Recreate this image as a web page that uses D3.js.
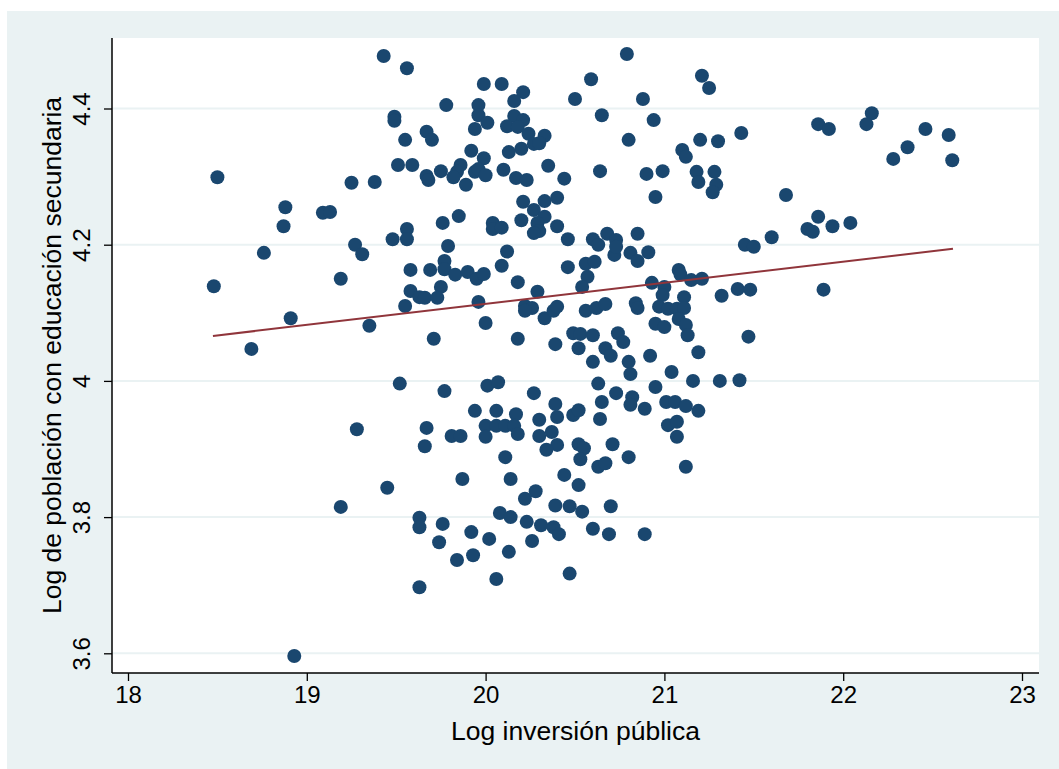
<!DOCTYPE html>
<html>
<head>
<meta charset="utf-8">
<script src="https://cdn.jsdelivr.net/npm/d3@7"></script>
<style>
  html, body { margin: 0; padding: 0; background: #ffffff; }
  svg { display: block; }
  text { font-family: "Liberation Sans", Arial, sans-serif; fill: #000; }
</style>
</head>
<body>
<svg id="chart" width="1059" height="769"></svg>
<script>
// Log public investment (x) and log population with secondary education (y)
const inversion = [
  18.48, 18.50, 18.69, 18.76, 18.87, 18.88, 18.91, 18.93, 19.09, 19.13,
  19.19, 19.19, 19.25, 19.27, 19.31, 19.28, 19.35, 19.38, 19.43, 19.45,
  19.48, 19.49, 19.49, 19.51, 19.52,
  19.56, 19.99, 20.09, 20.21, 19.78, 20.16, 19.96, 19.96, 20.01, 19.94,
  20.16, 20.21, 20.12, 20.18, 20.24, 20.33, 20.27, 20.30, 20.20, 19.67,
  19.70, 19.55, 19.92, 19.99, 20.13, 19.59, 19.75, 19.67, 19.68, 19.86,
  19.84, 19.82, 19.89, 19.94, 19.96, 20.00, 20.10, 20.17, 20.23, 20.35,
  20.44, 20.21, 20.27, 20.33, 20.40, 20.20, 20.33, 20.29, 20.30, 20.27,
  20.40, 19.85, 19.76, 19.56, 19.56, 20.04, 20.04, 20.09, 19.79, 20.12,
  19.77, 19.58, 19.69, 19.77, 19.83, 19.90, 19.95, 19.99, 20.09, 20.18,
  20.29, 19.75, 19.58, 19.63, 19.66, 19.73, 19.55, 19.96, 20.22, 20.26,
  20.22, 20.33, 20.38, 20.40, 20.00, 19.71, 20.18, 20.39,
  19.77, 20.01, 20.07, 20.27, 20.39, 20.40, 19.94, 20.06, 20.17, 20.00,
  20.06, 20.11, 20.16, 19.67, 20.30, 20.18, 20.00, 19.81, 19.86, 20.30,
  20.37, 20.40, 20.34, 19.66, 20.11, 19.87, 20.14, 20.44, 20.28, 20.22,
  20.39, 19.63, 19.63, 19.76, 20.08, 20.14, 20.23, 20.31, 20.38, 20.41,
  19.92, 20.02, 19.74, 20.26, 19.93, 19.84, 20.13, 20.06, 19.63,
  20.79, 20.59, 21.21, 21.25, 20.50, 20.88, 20.65, 20.94, 20.80, 21.20,
  21.30, 21.10, 21.12, 20.64, 20.90, 20.99, 21.18, 21.19, 21.28, 21.29,
  21.27, 20.95, 20.85, 20.46, 20.60, 20.63, 20.68, 20.73, 20.72, 20.73,
  20.81, 20.85, 20.91, 20.46, 20.56, 20.61, 20.57, 20.54, 21.08, 21.09,
  21.15, 21.21, 20.93, 21.00, 20.99, 21.11, 21.32, 20.56, 20.62, 20.67,
  20.84, 20.85, 20.97, 21.02, 21.07, 21.11, 21.08, 21.12, 20.95, 21.00,
  21.13, 20.49, 20.53, 20.60, 20.74, 20.77, 20.52, 20.67, 20.70, 20.60,
  20.80, 20.81, 20.92, 21.04, 21.19,
  21.16, 21.31, 20.63, 20.73, 20.65, 20.95, 20.82, 20.81, 20.89, 21.01,
  21.06, 21.12, 21.19, 20.49, 20.52, 20.64, 21.02, 21.07, 21.07, 20.52,
  20.55, 20.53, 20.71, 20.80, 20.63, 20.67, 21.12, 20.52, 20.47, 20.54,
  20.70, 20.60, 20.69, 20.89, 20.47,
  22.16, 22.13, 21.86, 21.92, 21.43, 22.46, 22.59, 22.36, 22.28, 22.61,
  21.68, 21.86, 21.80, 21.83, 21.94, 22.04, 21.60, 21.45, 21.50, 21.41,
  21.48, 21.89, 21.47, 21.42
];
const poblacion = [
  4.139, 4.299, 4.047, 4.188, 4.227, 4.255, 4.092, 3.596, 4.247, 4.248,
  4.150, 3.815, 4.291, 4.200, 4.186, 3.929, 4.081, 4.292, 4.477, 3.843,
  4.208, 4.388, 4.382, 4.317, 3.996,
  4.459, 4.436, 4.436, 4.424, 4.405, 4.411, 4.405, 4.390, 4.379, 4.370,
  4.389, 4.383, 4.374, 4.373, 4.363, 4.360, 4.348, 4.349, 4.341, 4.366,
  4.354, 4.354, 4.338, 4.327, 4.336, 4.317, 4.308, 4.301, 4.295, 4.317,
  4.307, 4.299, 4.288, 4.307, 4.311, 4.302, 4.310, 4.298, 4.295, 4.316,
  4.297, 4.263, 4.251, 4.264, 4.269, 4.236, 4.241, 4.232, 4.220, 4.217,
  4.227, 4.242, 4.232, 4.223, 4.208, 4.232, 4.223, 4.225, 4.198, 4.190,
  4.176, 4.163, 4.163, 4.164, 4.156, 4.160, 4.150, 4.157, 4.169, 4.145,
  4.131, 4.138, 4.132, 4.123, 4.122, 4.122, 4.110, 4.116, 4.110, 4.107,
  4.103, 4.092, 4.103, 4.109, 4.085, 4.062, 4.062, 4.054,
  3.985, 3.993, 3.998, 3.982, 3.966, 3.947, 3.956, 3.956, 3.951, 3.934,
  3.934, 3.934, 3.934, 3.931, 3.943, 3.922, 3.918, 3.919, 3.919, 3.919,
  3.925, 3.906, 3.899, 3.904, 3.888, 3.856, 3.856, 3.862, 3.838, 3.827,
  3.817, 3.799, 3.785, 3.790, 3.806, 3.800, 3.793, 3.788, 3.785, 3.775,
  3.778, 3.768, 3.763, 3.765, 3.744, 3.737, 3.749, 3.709, 3.697,
  4.480, 4.443, 4.448, 4.430, 4.414, 4.414, 4.390, 4.383, 4.354, 4.354,
  4.352, 4.339, 4.329, 4.308, 4.304, 4.308, 4.307, 4.292, 4.307, 4.288,
  4.277, 4.270, 4.216, 4.208, 4.208, 4.200, 4.216, 4.207, 4.185, 4.197,
  4.188, 4.176, 4.189, 4.167, 4.172, 4.175, 4.153, 4.138, 4.163, 4.156,
  4.148, 4.150, 4.144, 4.138, 4.126, 4.123, 4.125, 4.103, 4.107, 4.113,
  4.114, 4.107, 4.109, 4.106, 4.106, 4.107, 4.091, 4.082, 4.084, 4.079,
  4.067, 4.070, 4.069, 4.067, 4.070, 4.057, 4.048, 4.048, 4.037, 4.028,
  4.028, 4.010, 4.037, 4.013, 4.042,
  4.000, 4.000, 3.996, 3.982, 3.969, 3.991, 3.976, 3.965, 3.959, 3.969,
  3.969, 3.963, 3.956, 3.950, 3.957, 3.944, 3.935, 3.940, 3.918, 3.907,
  3.901, 3.885, 3.907, 3.888, 3.874, 3.879, 3.874, 3.847, 3.816, 3.808,
  3.816, 3.783, 3.775, 3.775, 3.717,
  4.393, 4.377, 4.377, 4.370, 4.364, 4.370, 4.361, 4.343, 4.326, 4.324,
  4.273, 4.241, 4.223, 4.219, 4.227, 4.232, 4.211, 4.200, 4.197, 4.135,
  4.134, 4.134, 4.065, 4.001
];

// Linear fit, evaluated at the ends of the x range
const fitX = [18.475, 22.614];
const fitY = [4.066, 4.194];

const xTicks = [18, 19, 20, 21, 22, 23];
const yTicks = [3.6, 3.8, 4.0, 4.2, 4.4];
const yTickLabels = ["3.6", "3.8", "4", "4.2", "4.4"];

const xTitle = "Log inversión pública";
const yTitle = "Log de población con educación secundaria";

const W = 1059, H = 769;
const region = { left: 112, right: 1039, top: 38, bottom: 673 };

const svg = d3.select("#chart");

// outer graph region
svg.append("rect")
  .attr("x", 7).attr("y", 11)
  .attr("width", W - 7).attr("height", H - 11)
  .attr("fill", "#eaf2f3");

// plot region
svg.append("rect")
  .attr("x", region.left).attr("y", region.top)
  .attr("width", region.right - region.left)
  .attr("height", region.bottom - region.top)
  .attr("fill", "#ffffff");

const x = d3.scaleLinear().domain([18, 23]).range([128, 1022]);
const y = d3.scaleLinear().domain([3.6, 4.4]).range([653.3, 108.5]);

// horizontal grid lines
svg.append("g")
  .selectAll("line")
  .data(yTicks)
  .join("line")
  .attr("x1", region.left).attr("x2", region.right)
  .attr("y1", d => y(d)).attr("y2", d => y(d))
  .attr("stroke", "#eaf2f3")
  .attr("stroke-width", 2);

// scatter points
const pts = inversion.map((v, i) => [v, poblacion[i]]);
svg.append("g")
  .selectAll("circle")
  .data(pts)
  .join("circle")
  .attr("cx", d => x(d[0]))
  .attr("cy", d => y(d[1]))
  .attr("r", 7)
  .attr("fill", "#1a476f");

// fitted line
const line = d3.line().x(d => x(d[0])).y(d => y(d[1]));
svg.append("path")
  .datum(fitX.map((v, i) => [v, fitY[i]]))
  .attr("d", line)
  .attr("fill", "none")
  .attr("stroke", "#90353b")
  .attr("stroke-width", 2);

// axes
const xAxis = d3.axisBottom(x).tickValues(xTicks).tickSize(8).tickPadding(5)
  .tickFormat(d3.format("d"));
const gx = svg.append("g")
  .attr("transform", `translate(0,${region.bottom})`)
  .call(xAxis);
gx.select(".domain").remove();
gx.selectAll(".tick line").attr("stroke", "#000").attr("stroke-width", 1.3);
gx.selectAll(".tick text")
  .attr("font-size", 24)
  .attr("font-family", "Liberation Sans, Arial, sans-serif")
  .attr("fill", "#000");

const yAxis = d3.axisLeft(y).tickValues(yTicks).tickSize(8)
  .tickFormat((d, i) => yTickLabels[i]);
const gy = svg.append("g")
  .attr("transform", `translate(${region.left},0)`)
  .call(yAxis);
gy.select(".domain").remove();
gy.selectAll(".tick line").attr("stroke", "#000").attr("stroke-width", 1.3);
gy.selectAll(".tick text")
  .attr("x", 0).attr("dy", 0)
  .attr("transform", "translate(-22,0) rotate(-90)")
  .attr("text-anchor", "middle")
  .attr("font-size", 24)
  .attr("font-family", "Liberation Sans, Arial, sans-serif")
  .attr("fill", "#000");

// axis lines
svg.append("line")
  .attr("x1", region.left).attr("x2", region.left)
  .attr("y1", region.top).attr("y2", region.bottom)
  .attr("stroke", "#000").attr("stroke-width", 1.5);
svg.append("line")
  .attr("x1", region.left).attr("x2", region.right)
  .attr("y1", region.bottom).attr("y2", region.bottom)
  .attr("stroke", "#000").attr("stroke-width", 1.5);

// titles
svg.append("text")
  .attr("x", (region.left + region.right) / 2)
  .attr("y", 740)
  .attr("text-anchor", "middle")
  .attr("font-size", 26.5)
  .text(xTitle);

svg.append("text")
  .attr("transform", `translate(61,355.5) rotate(-90)`)
  .attr("text-anchor", "middle")
  .attr("font-size", 26.5)
  .text(yTitle);
</script>
</body>
</html>
